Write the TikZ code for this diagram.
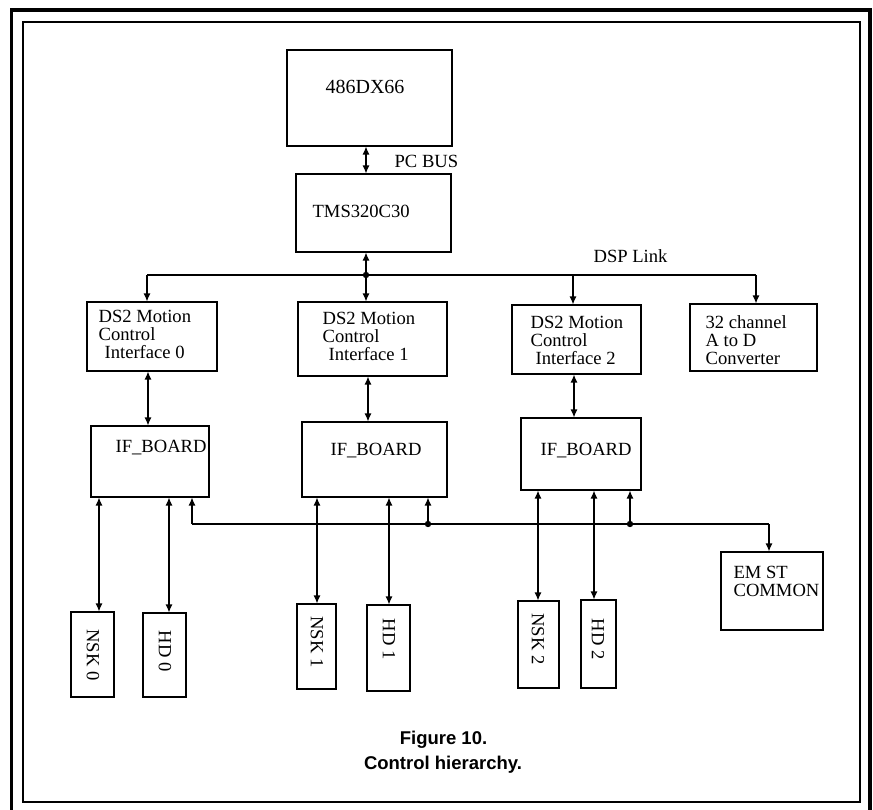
\documentclass[tikz,border=0pt]{standalone}
\usepackage{fontspec}
\setmainfont{Liberation Serif}
\newfontfamily\legende{Liberation Sans}
\usetikzlibrary{arrows.meta,fit}
\newcommand{\boite}[3]{\node[bloc, fit={(#2) (#3)}] (#1) {}}
\newcommand{\jonction}[1]{\fill (#1) circle (3.2)}
\newcommand{\lien}[3]{\draw[#1] (#2) -- (#3)}

\begin{document}
\begin{tikzpicture}[x=1pt,y=-1pt,
	bloc/.style={draw, line width=1.1pt, inner sep=0pt},
	txt/.style={inner sep=0pt, font=\fontsize{18.6pt}{18pt}\selectfont},
	legendetxt/.style={inner sep=0pt, anchor=base, font=\legende\bfseries\fontsize{18.5pt}{20pt}\selectfont},
	>={Latex[length=8pt,width=7pt]}, line width=1.2pt]
	\useasboundingbox (0,0) rectangle (873,810);
	% cadres
	\draw[line width=3.5pt] (11.5,815) -- (11.5,10) -- (870,10) -- (870,815);
	\draw[line width=2pt] (23,22) rectangle (860,802);
	% boites
	\boite{cpu}{287,50}{452,146};
	\boite{tms}{296,174}{451,252};
	\boite{ds0}{87,302}{217,371};
	\boite{ds1}{298,302}{447,376};
	\boite{ds2}{512,305}{641,374};
	\boite{adc}{690,304}{817,371};
	\boite{if0}{91,426}{209,497};
	\boite{if1}{302,422}{447,497};
	\boite{if2}{521,418}{641,490};
	\boite{nsk0}{71,612}{114,697};
	\boite{hd0}{143,613}{186,697};
	\boite{nsk1}{297,604}{336,689};
	\boite{hd1}{367,605}{410,691};
	\boite{nsk2}{518,601}{559,688};
	\boite{hd2}{581,600}{616,688};
	\boite{emst}{721,552}{823,630};
	% textes
	\node[txt, anchor=base west, font=\fontsize{20pt}{20pt}\selectfont] (tcpu) at (325,93.6) {486DX66};
	\node[txt, anchor=base west] (ttms) at (312,218) {TMS320C30};
	\node[txt, anchor=base west] (tpc) at (394,168) {PC BUS};
	\node[txt, anchor=base west] (tdsp) at (593,263) {DSP Link};
	\node[txt, anchor=north west, align=left] (tds0) at (98,309.5) {DS2 Motion\\Control\\\hspace{6pt}Interface 0};
	\node[txt, anchor=north west, align=left] (tds1) at (322,311.5) {DS2 Motion\\Control\\\hspace{6pt}Interface 1};
	\node[txt, anchor=north west, align=left] (tds2) at (530,315.5) {DS2 Motion\\Control\\\hspace{5pt}Interface 2};
	\node[txt, anchor=north west, align=left] (tadc) at (705,314.5) {32 channel\\A to D\\Converter};
	\node[txt, anchor=base west] (tif0) at (115,452) {IF\_BOARD};
	\node[txt, anchor=base west] (tif1) at (330,455) {IF\_BOARD};
	\node[txt, anchor=base west] (tif2) at (540,455) {IF\_BOARD};
	\node[txt, rotate=-90] (tnsk0) at (93,655) {NSK 0};
	\node[txt, rotate=-90] (thd0) at (165,651) {HD 0};
	\node[txt, rotate=-90] (tnsk1) at (317,642) {NSK 1};
	\node[txt, rotate=-90] (thd1) at (389,639) {HD 1};
	\node[txt, rotate=-90] (tnsk2) at (538,639) {NSK 2};
	\node[txt, rotate=-90] (thd2) at (598,639) {HD 2};
	\node[txt, anchor=north west, align=left] (temst) at (733,566) {EM ST\\COMMON};
	\node[legendetxt] (tfig) at (443.5,744.6) {Figure 10.};
	\node[legendetxt] (ttitre) at (443,769.6) {Control hierarchy.};
	% bus DSP
	\coordinate (dsp) at (366,275);
	\coordinate (busg) at (147,275);
	\coordinate (busd) at (756,275);
	\coordinate (b2) at (573,275);
	\lien{<->}{cpu.south -| dsp}{tms.north -| dsp};
	\lien{<-}{tms.south -| dsp}{dsp};
	\lien{->}{dsp}{ds1.north -| dsp};
	\draw (busg) -- (busd);
	\lien{->}{busg}{ds0.north -| busg};
	\lien{->}{b2}{ds2.north -| b2};
	\lien{->}{busd}{adc.north -| busd};
	\jonction{dsp};
	% vers les IF_BOARD
	\lien{<->}{ds0.south -| 148,0}{if0.north -| 148,0};
	\lien{<->}{ds1.south -| 368,0}{if1.north -| 368,0};
	\lien{<->}{ds2.south -| 574,0}{if2.north -| 574,0};
	% vers les moteurs
	\lien{<->}{if0.south -| 99,0}{nsk0.north -| 99,0};
	\lien{<->}{if0.south -| 169,0}{hd0.north -| 169,0};
	\lien{<->}{if1.south -| 317,0}{nsk1.north -| 317,0};
	\lien{<->}{if1.south -| 389,0}{hd1.north -| 389,0};
	\lien{<->}{if2.south -| 538,0}{nsk2.north -| 538,0};
	\lien{<->}{if2.south -| 594,0}{hd2.north -| 594,0};
	% ligne commune
	\coordinate (c0) at (192,524);
	\coordinate (c1) at (428,524);
	\coordinate (c2) at (630,524);
	\coordinate (c3) at (769,524);
	\draw (c0) -- (c3);
	\lien{->}{c0}{if0.south -| c0};
	\lien{->}{c1}{if1.south -| c1};
	\lien{->}{c2}{if2.south -| c2};
	\lien{->}{c3}{emst.north -| c3};
	\jonction{c1};
	\jonction{c2};
\end{tikzpicture}
\end{document}
